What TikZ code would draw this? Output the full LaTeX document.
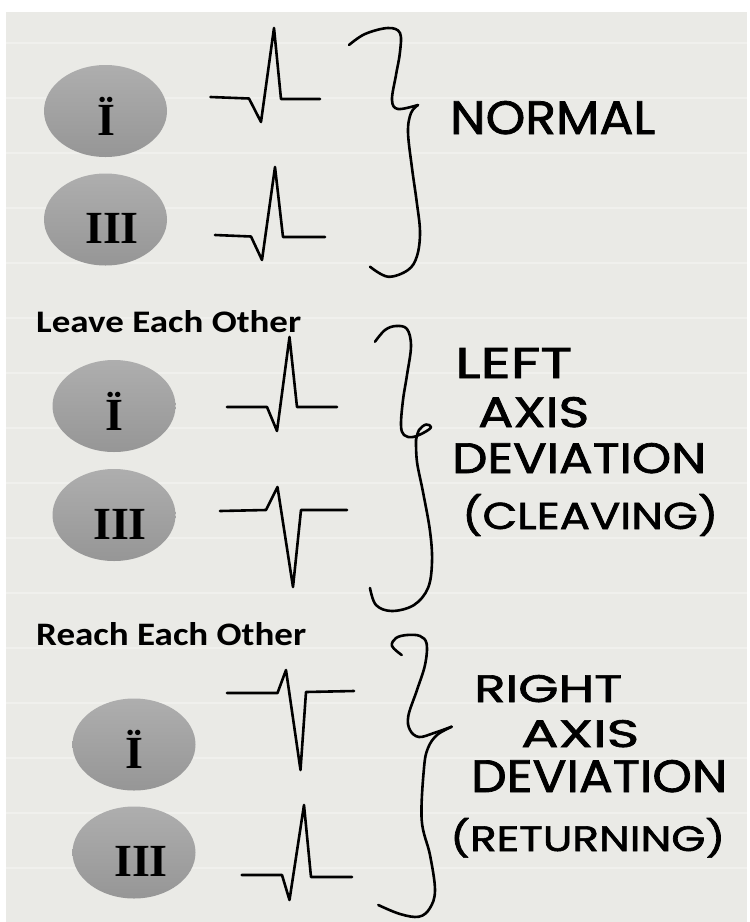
\documentclass[tikz,border=0pt]{standalone}
\usepackage{fontspec}
\usepackage{graphicx}
\newfontfamily\hwfont[FakeBold=1.6]{Poppins}
\newfontfamily\headfont{Carlito}
\newfontfamily\numfont{Liberation Serif}
\definecolor{paper}{RGB}{234,234,230}
\definecolor{rule}{RGB}{240,240,237}
\definecolor{elltop}{RGB}{174,174,174}
\definecolor{ellbot}{RGB}{150,150,150}
\tikzset{
  leadell/.style={ellipse, minimum width=123pt, minimum height=92pt, inner sep=0pt,
    top color=elltop, bottom color=ellbot, draw=none},
  leadtxt/.style={anchor=base, inner sep=0pt, font=\numfont\bfseries\fontsize{46}{46}\selectfont},
  hwtxt/.style={anchor=base west, inner sep=0pt},
  headtxt/.style={anchor=base west, inner sep=0pt},
  ecg/.style={line width=2.6pt, line join=round, line cap=round, black},
  bracepath/.style={line width=2.6pt, line join=round, line cap=round, black},
}
\usetikzlibrary{shapes.geometric}
\newcommand{\hw}[3]{\resizebox{#1pt}{#2pt}{\hwfont #3}}
\newcommand{\hd}[3]{\resizebox{#1pt}{#2pt}{\headfont\bfseries #3}}
\begin{document}
\begin{tikzpicture}[x=1pt,y=-1pt]
\useasboundingbox (0,0) rectangle (750,922);
\fill[white] (0,0) rectangle (750,922);
\fill[paper] (6,12) rectangle (747,922);
\foreach \yy in {43,98,...,918} {\draw[rule, line width=1.2pt] (6,\yy) -- (747,\yy);}

% ---------- Section 1: normal
\node[leadell] (e1) at (105.5,111) {};
\node[leadtxt] (t1) at (106.5,135) {Ï};
\node[leadell] (e2) at (105.5,219.5) {};
\node[leadtxt] (t2) at (112,243) {III};
\draw[ecg] (210.5,97) -- (249,98.5) -- (261,122) -- (274,28) -- (281,99) -- (320,99);
\draw[ecg] (215,235) -- (251,236.5) -- (262,260) -- (275,167) -- (283,237) -- (325,237);
\draw[bracepath] plot[smooth, tension=0.6] coordinates {(349,45) (365,34) (388,28) (400,33) (400,52) (396,75) (392,100) (398,109) (418,105)};
\draw[bracepath] plot[smooth, tension=0.6] coordinates {(418,105) (411,113) (408,132) (412,168) (416.7,201.7) (420,232) (417,256) (408,270) (388,276.7) (370,266.7)};
\node[hwtxt] (n1) at (450,134) {\hw{205}{33}{NORMAL}};

% ---------- Section 2: left axis deviation
\node[headtxt] (h2) at (36,332) {\hd{265}{22}{Leave Each Other}};
\node[leadell] (e3) at (114,406) {};
\node[leadtxt] (t3) at (114,430) {Ï};
\node[leadell] (e4) at (114,515) {};
\node[leadtxt] (t4) at (120,539) {III};
\draw[ecg] (227,407) -- (267,407) -- (277,431) -- (289.5,337) -- (297,407) -- (337,407);
\draw[ecg] (220,511) -- (266,510) -- (277.5,487) -- (293,587) -- (301,510) -- (347,510);
\draw[bracepath] plot[smooth, tension=0.6] coordinates {(375,341.7) (385,330) (396,326) (407,329) (411,346) (407,375) (403,400) (401,425) (404,435) (413,437) (425,432) (431,427) (426,424.5) (419,430) (416,440)};
\draw[bracepath] plot[smooth, tension=0.6] coordinates {(416,440) (417,462) (423,492) (430,531) (432,562) (428,588) (414,605) (392,611) (376,605) (370,588)};
\node[hwtxt] (l1) at (455,378) {\hw{117}{30}{LEFT}};
\node[hwtxt] (l2) at (478,427) {\hw{111}{30}{AXIS}};
\node[hwtxt] (l3) at (452,473) {\hw{254}{30}{DEVIATION}};
\node[hwtxt] (l4) at (462,529) {\hw{256}{35}{(CLEAVING)}};

% ---------- Section 3: right axis deviation
\node[headtxt] (h3) at (36,645) {\hd{270}{23}{Reach Each Other}};
\node[leadell] (e5) at (134,744.5) {};
\node[leadtxt] (t5) at (134,768.5) {Ï};
\node[leadell] (e6) at (134,852.5) {};
\node[leadtxt] (t6) at (141,876.5) {III};
\draw[ecg] (227,693) -- (277.5,693) -- (286,670) -- (300.5,770) -- (306,692) -- (354,691);
\draw[ecg] (241.6,875) -- (282,875) -- (289.5,900) -- (304,805) -- (311,877) -- (352,877);
\draw[bracepath] plot[smooth, tension=0.6] coordinates {(401.7,655) (392,646) (396,638) (407,635) (420,636) (426.7,644) (425,665) (417,690) (408.3,716) (410,730) (419,737) (434,733) (451.7,726.7)};
\draw[bracepath] plot[smooth, tension=0.6] coordinates {(451.7,726.7) (437,735) (428,748) (424,768) (421.7,820) (430,855) (435,890) (430,908) (419,916.7) (400,914) (378.3,905)};
\node[hwtxt] (r1) at (474,702) {\hw{148}{27}{RIGHT}};
\node[hwtxt] (r2) at (521,747) {\hw{118}{27}{AXIS}};
\node[hwtxt] (r3) at (471,792) {\hw{256}{32}{DEVIATION}};
\node[hwtxt] (r4) at (450,851) {\hw{275}{33}{(RETURNING)}};
\end{tikzpicture}
\end{document}
